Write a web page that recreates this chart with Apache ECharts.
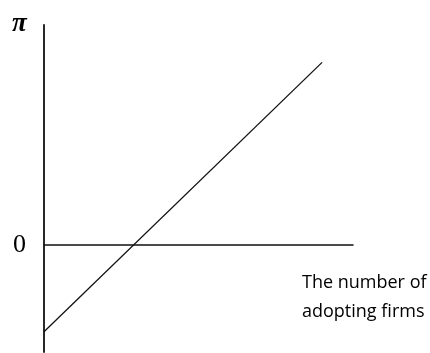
<!DOCTYPE html>
<html>
<head>
<meta charset="utf-8">
<script src="https://cdn.jsdelivr.net/npm/echarts@6/dist/echarts.min.js"></script>
<style>
  html, body { margin: 0; padding: 0; background: #fff; }
  #chart { width: 430px; height: 353px; }
</style>
</head>
<body>
<div id="chart"></div>
<script>
// profit of adopting vs number of adopting firms (schematic)
const firmsX = [0, 9];
const profitY = [-0.81, 1.71];
const yTicks = [0];
const xLabelLines = ['The number of', 'adopting firms'];

const chart = echarts.init(document.getElementById('chart'));

const option = {
  animation: false,
  backgroundColor: '#fff',
  grid: { left: 44, right: 77, top: 25, bottom: 1 },
  xAxis: {
    type: 'value',
    min: 0,
    max: 10,
    axisLine: { onZero: true, lineStyle: { color: '#111', width: 1.5 } },
    axisTick: { show: false },
    axisLabel: { show: false },
    splitLine: { show: false }
  },
  yAxis: {
    type: 'value',
    min: -1,
    max: 2.06,
    interval: 1,
    axisLine: { show: true, lineStyle: { color: '#111', width: 1.8 } },
    axisTick: { show: false },
    splitLine: { show: false },
    axisLabel: {
      margin: 18,
      color: '#000',
      fontFamily: 'Liberation Serif',
      fontSize: 26,
      formatter: v => (yTicks.includes(v) ? String(v) : '')
    }
  },
  graphic: [
    {
      type: 'text',
      left: 12,
      top: 11,
      style: {
        text: 'π',
        fill: '#000',
        font: 'italic bold 27px "Liberation Serif"'
      }
    },
    {
      type: 'text',
      left: 302,
      top: 268,
      style: {
        text: xLabelLines.join('\n'),
        fill: '#000',
        font: '18px "Open Sans"',
        lineHeight: 29
      }
    }
  ],
  series: [
    {
      type: 'line',
      silent: true,
      symbol: 'none',
      lineStyle: { color: '#111', width: 1.3 },
      data: firmsX.map((x, i) => [x, profitY[i]])
    }
  ]
};

chart.setOption(option);
</script>
</body>
</html>
